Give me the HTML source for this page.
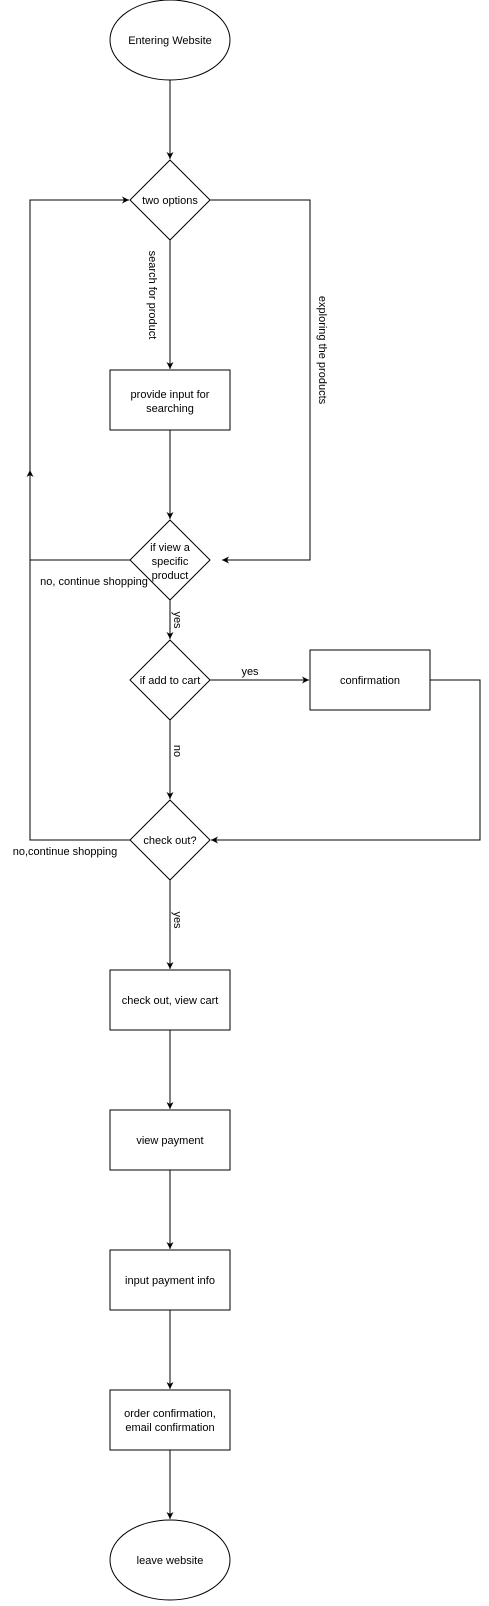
<!DOCTYPE html>
<html><head><style>body{margin:0;background:#fff}</style></head><body>
<svg width="489" height="1601" xmlns="http://www.w3.org/2000/svg" font-family="Liberation Sans, sans-serif" font-size="11" fill="none" stroke="#000" stroke-width="1">
<defs><marker id="a" markerWidth="8" markerHeight="8" refX="7" refY="4" orient="auto" markerUnits="userSpaceOnUse"><path d="M0,0.5 L7,4 L0,7.5 L2,4z" fill="#000" stroke="none"/></marker></defs>
<ellipse cx="170" cy="40" rx="60" ry="40"/>
<path d="M170,200 L210,240 L170,280 L130,240z" transform="translate(0,-40)"/>
<rect x="110" y="370" width="120" height="60"/>
<path d="M170,520 L210,560 L170,600 L130,560z"/>
<path d="M170,640 L210,680 L170,720 L130,680z"/>
<rect x="310" y="650" width="120" height="60"/>
<path d="M170,800 L210,840 L170,880 L130,840z"/>
<rect x="110" y="970" width="120" height="60"/>
<rect x="110" y="1110" width="120" height="60"/>
<rect x="110" y="1250" width="120" height="60"/>
<rect x="110" y="1390" width="120" height="60"/>
<ellipse cx="170" cy="1560" rx="60" ry="40"/>
<g marker-end="url(#a)">
<line x1="170" y1="80" x2="170" y2="159"/>
<line x1="170" y1="240" x2="170" y2="369"/>
<line x1="170" y1="430" x2="170" y2="519"/>
<polyline points="210,200 310,200 310,560 222,560"/>
<polyline points="130,560 30,560 30,200 129,200"/>
<line x1="170" y1="600" x2="170" y2="639"/>
<line x1="210" y1="680" x2="309" y2="680"/>
<line x1="170" y1="720" x2="170" y2="799"/>
<polyline points="430,680 480,680 480,840 211,840"/>
<polyline points="130,840 30,840 30,470"/>
<line x1="170" y1="880" x2="170" y2="969"/>
<line x1="170" y1="1030" x2="170" y2="1109"/>
<line x1="170" y1="1170" x2="170" y2="1249"/>
<line x1="170" y1="1310" x2="170" y2="1389"/>
<line x1="170" y1="1450" x2="170" y2="1519"/>
</g>
<g fill="#000" stroke="none" text-anchor="middle">
<text x="170" y="44">Entering Website</text>
<text x="170" y="204">two options</text>
<text x="170" y="398">provide input for</text>
<text x="170" y="412">searching</text>
<text x="170" y="551">if view a</text>
<text x="170" y="565">specific</text>
<text x="170" y="579">product</text>
<text x="170" y="684">if add to cart</text>
<text x="370" y="684">confirmation</text>
<text x="170" y="844">check out?</text>
<text x="170" y="1004">check out, view cart</text>
<text x="170" y="1144">view payment</text>
<text x="170" y="1284">input payment info</text>
<text x="170" y="1417">order confirmation,</text>
<text x="170" y="1431">email confirmation</text>
<text x="170" y="1564">leave website</text>
<text x="250" y="675">yes</text>
<text x="94" y="585">no, continue shopping</text>
<text x="65" y="855">no,continue shopping</text>
<text transform="translate(149,295) rotate(90)">search for product</text>
<text transform="translate(319,350) rotate(90)">exploring the products</text>
<text transform="translate(174,620) rotate(90)">yes</text>
<text transform="translate(174,751) rotate(90)">no</text>
<text transform="translate(174,920) rotate(90)">yes</text>
</g>
</svg>
</body></html>
